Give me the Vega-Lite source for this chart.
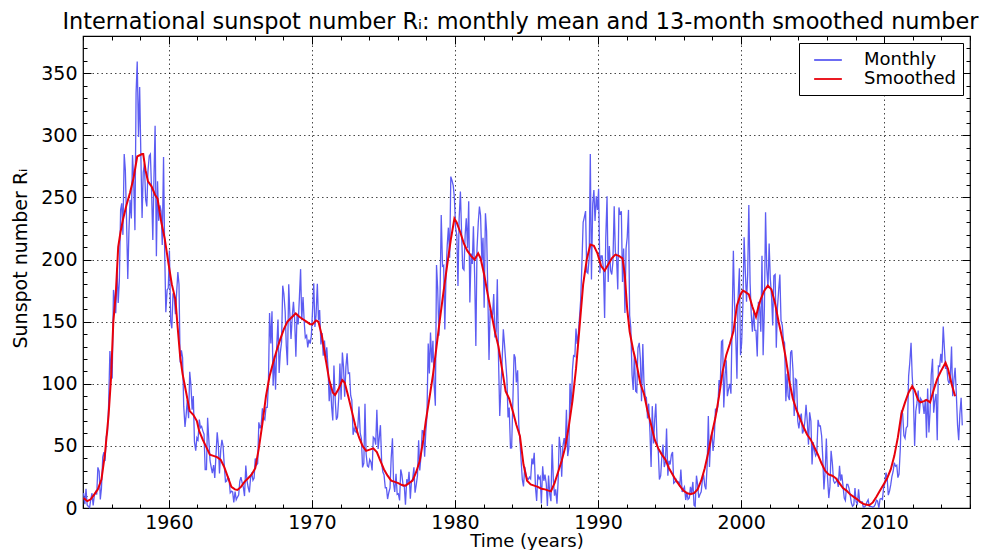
{
"$schema": "https://vega.github.io/schema/vega-lite/v6.json",
"width": 887, "height": 472,
"autosize": {"type": "none"},
"padding": {"left": 83, "top": 36, "right": 26, "bottom": 42},
"background": "white",
"title": {"text": "International sunspot number Rᵢ: monthly mean and 13-month smoothed number", "font": "DejaVu Sans", "fontSize": 22.4, "fontWeight": "normal", "color": "#000", "offset": 8, "dy": 14, "dx": -6, "anchor": "middle"},
"config": {"view": {"stroke": "#000", "strokeWidth": 1.2}, "font": "DejaVu Sans"},
"datasets": {
"monthly": [
{"t":1954.04,"v":12},{"t":1954.13,"v":3},{"t":1954.21,"v":15.4},{"t":1954.29,"v":2.5},{"t":1954.38,"v":1.1},{"t":1954.46,"v":0.3},{"t":1954.54,"v":6.8},{"t":1954.63,"v":11.9},{"t":1954.71,"v":2.1},{"t":1954.79,"v":9.9},{"t":1954.88,"v":13},{"t":1954.96,"v":10.8},
{"t":1955.04,"v":32.7},{"t":1955.13,"v":29.5},{"t":1955.21,"v":6.9},{"t":1955.29,"v":16},{"t":1955.38,"v":40.9},{"t":1955.46,"v":44.9},{"t":1955.54,"v":37.8},{"t":1955.63,"v":57.6},{"t":1955.71,"v":60.5},{"t":1955.79,"v":82.8},{"t":1955.88,"v":126.3},{"t":1955.96,"v":108.9},
{"t":1956.04,"v":104.2},{"t":1956.13,"v":175.6},{"t":1956.21,"v":167.7},{"t":1956.29,"v":156.8},{"t":1956.38,"v":193.4},{"t":1956.46,"v":165.1},{"t":1956.54,"v":182.8},{"t":1956.63,"v":240.2},{"t":1956.71,"v":245.3},{"t":1956.79,"v":219.9},{"t":1956.88,"v":285},{"t":1956.96,"v":272},
{"t":1957.04,"v":233.6},{"t":1957.13,"v":184.4},{"t":1957.21,"v":222.9},{"t":1957.29,"v":248.1},{"t":1957.38,"v":233.1},{"t":1957.46,"v":284.2},{"t":1957.54,"v":265.1},{"t":1957.63,"v":223.7},{"t":1957.71,"v":333.9},{"t":1957.79,"v":359.4},{"t":1957.88,"v":298.6},{"t":1957.96,"v":339},
{"t":1958.04,"v":286.7},{"t":1958.13,"v":233.5},{"t":1958.21,"v":270},{"t":1958.29,"v":277.5},{"t":1958.38,"v":248.2},{"t":1958.46,"v":242.8},{"t":1958.54,"v":271},{"t":1958.63,"v":283.5},{"t":1958.71,"v":284.9},{"t":1958.79,"v":257},{"t":1958.88,"v":215.7},{"t":1958.96,"v":265.6},
{"t":1959.04,"v":307.8},{"t":1959.13,"v":202.6},{"t":1959.21,"v":263},{"t":1959.29,"v":231.2},{"t":1959.38,"v":243.6},{"t":1959.46,"v":238.9},{"t":1959.54,"v":211.8},{"t":1959.63,"v":282.6},{"t":1959.71,"v":205.6},{"t":1959.79,"v":157.7},{"t":1959.88,"v":175.6},{"t":1959.96,"v":177},
{"t":1960.04,"v":207.2},{"t":1960.13,"v":150.1},{"t":1960.21,"v":144.7},{"t":1960.29,"v":172.8},{"t":1960.38,"v":169.4},{"t":1960.46,"v":156},{"t":1960.54,"v":172.3},{"t":1960.63,"v":189.9},{"t":1960.71,"v":180.1},{"t":1960.79,"v":117.2},{"t":1960.88,"v":126.9},{"t":1960.96,"v":121.2},
{"t":1961.04,"v":82},{"t":1961.13,"v":65.3},{"t":1961.21,"v":75},{"t":1961.29,"v":86.9},{"t":1961.38,"v":72.2},{"t":1961.46,"v":109.6},{"t":1961.54,"v":99.4},{"t":1961.63,"v":79.2},{"t":1961.71,"v":90.1},{"t":1961.79,"v":53.4},{"t":1961.88,"v":46.2},{"t":1961.96,"v":56.5},
{"t":1962.04,"v":54.8},{"t":1962.13,"v":71.2},{"t":1962.21,"v":64.6},{"t":1962.29,"v":65.7},{"t":1962.38,"v":61.9},{"t":1962.46,"v":59.5},{"t":1962.54,"v":30.9},{"t":1962.63,"v":30.9},{"t":1962.71,"v":72.6},{"t":1962.79,"v":55.9},{"t":1962.88,"v":38.1},{"t":1962.96,"v":32.9},
{"t":1963.04,"v":28},{"t":1963.13,"v":34.6},{"t":1963.21,"v":24.2},{"t":1963.29,"v":41.5},{"t":1963.38,"v":60.9},{"t":1963.46,"v":50.8},{"t":1963.54,"v":27.8},{"t":1963.63,"v":47},{"t":1963.71,"v":54.9},{"t":1963.79,"v":50},{"t":1963.88,"v":33.1},{"t":1963.96,"v":21.1},
{"t":1964.04,"v":21.7},{"t":1964.13,"v":25.1},{"t":1964.21,"v":23.4},{"t":1964.29,"v":12.2},{"t":1964.38,"v":13.5},{"t":1964.46,"v":12.9},{"t":1964.54,"v":4.4},{"t":1964.63,"v":13.2},{"t":1964.71,"v":6.7},{"t":1964.79,"v":8.6},{"t":1964.88,"v":10.5},{"t":1964.96,"v":21.4},
{"t":1965.04,"v":24.8},{"t":1965.13,"v":20.1},{"t":1965.21,"v":16.6},{"t":1965.29,"v":9.6},{"t":1965.38,"v":34.1},{"t":1965.46,"v":22.5},{"t":1965.54,"v":16.9},{"t":1965.63,"v":12.6},{"t":1965.71,"v":23.8},{"t":1965.79,"v":28.5},{"t":1965.88,"v":22.4},{"t":1965.96,"v":24.1},
{"t":1966.04,"v":39.9},{"t":1966.13,"v":34.6},{"t":1966.21,"v":35.8},{"t":1966.29,"v":69},{"t":1966.38,"v":64.1},{"t":1966.46,"v":67.5},{"t":1966.54,"v":80.3},{"t":1966.63,"v":72.5},{"t":1966.71,"v":71.1},{"t":1966.79,"v":81},{"t":1966.88,"v":81},{"t":1966.96,"v":99.7},
{"t":1967.04,"v":157},{"t":1967.13,"v":132.5},{"t":1967.21,"v":158.3},{"t":1967.29,"v":98.4},{"t":1967.38,"v":122.5},{"t":1967.46,"v":95.3},{"t":1967.54,"v":129.6},{"t":1967.63,"v":151.8},{"t":1967.71,"v":108.7},{"t":1967.79,"v":124.9},{"t":1967.88,"v":133.5},{"t":1967.96,"v":179},
{"t":1968.04,"v":172.5},{"t":1968.13,"v":158.4},{"t":1968.21,"v":130.6},{"t":1968.29,"v":115},{"t":1968.38,"v":180.1},{"t":1968.46,"v":156.2},{"t":1968.54,"v":136.1},{"t":1968.63,"v":154.8},{"t":1968.71,"v":166},{"t":1968.79,"v":152.5},{"t":1968.88,"v":121.8},{"t":1968.96,"v":155.5},
{"t":1969.04,"v":147.8},{"t":1969.13,"v":170.6},{"t":1969.21,"v":192.3},{"t":1969.29,"v":151.2},{"t":1969.38,"v":169.9},{"t":1969.46,"v":150.1},{"t":1969.54,"v":137.1},{"t":1969.63,"v":138.8},{"t":1969.71,"v":129.3},{"t":1969.79,"v":135.5},{"t":1969.88,"v":132.4},{"t":1969.96,"v":138.6},
{"t":1970.04,"v":157.9},{"t":1970.13,"v":181},{"t":1970.21,"v":145.7},{"t":1970.29,"v":155.1},{"t":1970.38,"v":180.5},{"t":1970.46,"v":151.2},{"t":1970.54,"v":159.3},{"t":1970.63,"v":131.7},{"t":1970.71,"v":140.9},{"t":1970.79,"v":122.6},{"t":1970.88,"v":134.8},{"t":1970.96,"v":118.2},
{"t":1971.04,"v":129.3},{"t":1971.13,"v":111.9},{"t":1971.21,"v":85.9},{"t":1971.29,"v":101.7},{"t":1971.38,"v":81.4},{"t":1971.46,"v":70.5},{"t":1971.54,"v":114.7},{"t":1971.63,"v":86.9},{"t":1971.71,"v":71.1},{"t":1971.79,"v":73.2},{"t":1971.88,"v":89.5},{"t":1971.96,"v":116.4},
{"t":1972.04,"v":87.1},{"t":1972.13,"v":125.2},{"t":1972.21,"v":113.4},{"t":1972.29,"v":89.5},{"t":1972.38,"v":114},{"t":1972.46,"v":124.6},{"t":1972.54,"v":108.3},{"t":1972.63,"v":108.7},{"t":1972.71,"v":90.6},{"t":1972.79,"v":86.8},{"t":1972.88,"v":58.9},{"t":1972.96,"v":64.1},
{"t":1973.04,"v":61.5},{"t":1973.13,"v":60.7},{"t":1973.21,"v":65.1},{"t":1973.29,"v":81.7},{"t":1973.38,"v":60},{"t":1973.46,"v":55.9},{"t":1973.54,"v":32.7},{"t":1973.63,"v":36.2},{"t":1973.71,"v":84},{"t":1973.79,"v":43.5},{"t":1973.88,"v":33.8},{"t":1973.96,"v":33},
{"t":1974.04,"v":39.1},{"t":1974.13,"v":36.8},{"t":1974.21,"v":30.2},{"t":1974.29,"v":57.1},{"t":1974.38,"v":55.9},{"t":1974.46,"v":51},{"t":1974.54,"v":79},{"t":1974.63,"v":47.6},{"t":1974.71,"v":56.9},{"t":1974.79,"v":66.7},{"t":1974.88,"v":35.4},{"t":1974.96,"v":29},
{"t":1975.04,"v":26.8},{"t":1975.13,"v":16.3},{"t":1975.21,"v":16.3},{"t":1975.29,"v":7.2},{"t":1975.38,"v":12.7},{"t":1975.46,"v":16.1},{"t":1975.54,"v":39.9},{"t":1975.63,"v":56.2},{"t":1975.71,"v":19.7},{"t":1975.79,"v":12.9},{"t":1975.88,"v":27.5},{"t":1975.96,"v":11},
{"t":1976.04,"v":11.5},{"t":1976.13,"v":6.1},{"t":1976.21,"v":31},{"t":1976.29,"v":26.6},{"t":1976.38,"v":17.6},{"t":1976.46,"v":17.3},{"t":1976.54,"v":2.7},{"t":1976.63,"v":23.2},{"t":1976.71,"v":19.1},{"t":1976.79,"v":29.2},{"t":1976.88,"v":7.4},{"t":1976.96,"v":21.7},
{"t":1977.04,"v":23.2},{"t":1977.13,"v":32.7},{"t":1977.21,"v":12.3},{"t":1977.29,"v":18.3},{"t":1977.38,"v":26.3},{"t":1977.46,"v":54.5},{"t":1977.54,"v":30.3},{"t":1977.63,"v":42.6},{"t":1977.71,"v":62.3},{"t":1977.79,"v":62},{"t":1977.88,"v":41.2},{"t":1977.96,"v":61.2},
{"t":1978.04,"v":73.5},{"t":1978.13,"v":132.5},{"t":1978.21,"v":108.3},{"t":1978.29,"v":141.2},{"t":1978.38,"v":117.1},{"t":1978.46,"v":134.7},{"t":1978.54,"v":99.7},{"t":1978.63,"v":82.3},{"t":1978.71,"v":195.7},{"t":1978.79,"v":177.1},{"t":1978.88,"v":138.6},{"t":1978.96,"v":173.7},
{"t":1979.04,"v":235.9},{"t":1979.13,"v":194.7},{"t":1979.21,"v":195.4},{"t":1979.29,"v":143.7},{"t":1979.38,"v":190.3},{"t":1979.46,"v":211.7},{"t":1979.54,"v":225.7},{"t":1979.63,"v":201.4},{"t":1979.71,"v":266.8},{"t":1979.79,"v":263.7},{"t":1979.88,"v":259.5},{"t":1979.96,"v":249.6},
{"t":1980.04,"v":226},{"t":1980.13,"v":219.5},{"t":1980.21,"v":178.7},{"t":1980.29,"v":232.4},{"t":1980.38,"v":254.7},{"t":1980.46,"v":222.7},{"t":1980.54,"v":193},{"t":1980.63,"v":191.7},{"t":1980.71,"v":219.5},{"t":1980.79,"v":233.2},{"t":1980.88,"v":209.4},{"t":1980.96,"v":246.9},
{"t":1981.04,"v":165.4},{"t":1981.13,"v":204.9},{"t":1981.21,"v":196.5},{"t":1981.29,"v":226.8},{"t":1981.38,"v":184.9},{"t":1981.46,"v":130.5},{"t":1981.54,"v":208.5},{"t":1981.63,"v":230.1},{"t":1981.71,"v":242.6},{"t":1981.79,"v":235.5},{"t":1981.88,"v":199.4},{"t":1981.96,"v":217.6},
{"t":1982.04,"v":161.2},{"t":1982.13,"v":237.2},{"t":1982.21,"v":223},{"t":1982.29,"v":176.9},{"t":1982.38,"v":119.2},{"t":1982.46,"v":160.1},{"t":1982.54,"v":153.9},{"t":1982.63,"v":156},{"t":1982.71,"v":172.3},{"t":1982.79,"v":137.3},{"t":1982.88,"v":142.2},{"t":1982.96,"v":184.2},
{"t":1983.04,"v":122.2},{"t":1983.13,"v":74},{"t":1983.21,"v":96.4},{"t":1983.29,"v":117},{"t":1983.38,"v":143.8},{"t":1983.46,"v":132.1},{"t":1983.54,"v":119.2},{"t":1983.63,"v":104.1},{"t":1983.71,"v":72.9},{"t":1983.79,"v":80.9},{"t":1983.88,"v":48.3},{"t":1983.96,"v":48.4},
{"t":1984.04,"v":82.7},{"t":1984.13,"v":123.8},{"t":1984.21,"v":121.1},{"t":1984.29,"v":101.1},{"t":1984.38,"v":110.8},{"t":1984.46,"v":66.8},{"t":1984.54,"v":54.2},{"t":1984.63,"v":37},{"t":1984.71,"v":22.8},{"t":1984.79,"v":17.4},{"t":1984.88,"v":33.1},{"t":1984.96,"v":27.1},
{"t":1985.04,"v":23.9},{"t":1985.13,"v":23.1},{"t":1985.21,"v":24.9},{"t":1985.29,"v":23.5},{"t":1985.38,"v":39.9},{"t":1985.46,"v":35.1},{"t":1985.54,"v":44.5},{"t":1985.63,"v":16.1},{"t":1985.71,"v":5.7},{"t":1985.79,"v":27},{"t":1985.88,"v":23.5},{"t":1985.96,"v":25.1},
{"t":1986.04,"v":3.6},{"t":1986.13,"v":33.6},{"t":1986.21,"v":21.9},{"t":1986.29,"v":26.8},{"t":1986.38,"v":19.9},{"t":1986.46,"v":1.6},{"t":1986.54,"v":26.2},{"t":1986.63,"v":10.7},{"t":1986.71,"v":5.5},{"t":1986.79,"v":51.3},{"t":1986.88,"v":22},{"t":1986.96,"v":9.9},
{"t":1987.04,"v":15.1},{"t":1987.13,"v":3.5},{"t":1987.21,"v":21.3},{"t":1987.29,"v":57.4},{"t":1987.38,"v":47.9},{"t":1987.46,"v":25.2},{"t":1987.54,"v":49.2},{"t":1987.63,"v":56.3},{"t":1987.71,"v":48.3},{"t":1987.79,"v":79},{"t":1987.88,"v":41.8},{"t":1987.96,"v":48.1},
{"t":1988.04,"v":100.2},{"t":1988.13,"v":79},{"t":1988.21,"v":111.1},{"t":1988.29,"v":122.7},{"t":1988.38,"v":122},{"t":1988.46,"v":144.4},{"t":1988.54,"v":132},{"t":1988.63,"v":141.2},{"t":1988.71,"v":154.1},{"t":1988.79,"v":168},{"t":1988.88,"v":199},{"t":1988.96,"v":230},
{"t":1989.04,"v":234},{"t":1989.13,"v":239},{"t":1989.21,"v":190},{"t":1989.29,"v":189},{"t":1989.38,"v":201},{"t":1989.46,"v":285},{"t":1989.54,"v":184},{"t":1989.63,"v":245},{"t":1989.71,"v":256},{"t":1989.79,"v":231},{"t":1989.88,"v":251},{"t":1989.96,"v":240},
{"t":1990.04,"v":257},{"t":1990.13,"v":189},{"t":1990.21,"v":203},{"t":1990.29,"v":203},{"t":1990.38,"v":192},{"t":1990.46,"v":153},{"t":1990.54,"v":217},{"t":1990.63,"v":251},{"t":1990.71,"v":182},{"t":1990.79,"v":211},{"t":1990.88,"v":191},{"t":1990.96,"v":188},
{"t":1991.04,"v":198},{"t":1991.13,"v":243},{"t":1991.21,"v":206},{"t":1991.29,"v":203},{"t":1991.38,"v":176},{"t":1991.46,"v":242},{"t":1991.54,"v":236},{"t":1991.63,"v":239},{"t":1991.71,"v":182},{"t":1991.79,"v":209},{"t":1991.88,"v":157},{"t":1991.96,"v":209},
{"t":1992.04,"v":218},{"t":1992.13,"v":240},{"t":1992.21,"v":155},{"t":1992.29,"v":145},{"t":1992.38,"v":107},{"t":1992.46,"v":95},{"t":1992.54,"v":124},{"t":1992.63,"v":94},{"t":1992.71,"v":93},{"t":1992.79,"v":129},{"t":1992.88,"v":133},{"t":1992.96,"v":120},
{"t":1993.04,"v":86},{"t":1993.13,"v":132},{"t":1993.21,"v":101},{"t":1993.29,"v":90},{"t":1993.38,"v":89},{"t":1993.46,"v":72},{"t":1993.54,"v":84},{"t":1993.63,"v":61},{"t":1993.71,"v":33},{"t":1993.79,"v":82},{"t":1993.88,"v":52},{"t":1993.96,"v":71},
{"t":1994.04,"v":84},{"t":1994.13,"v":52},{"t":1994.21,"v":46},{"t":1994.29,"v":23},{"t":1994.38,"v":26},{"t":1994.46,"v":41},{"t":1994.54,"v":51},{"t":1994.63,"v":33},{"t":1994.71,"v":37},{"t":1994.79,"v":64},{"t":1994.88,"v":26},{"t":1994.96,"v":38},
{"t":1995.04,"v":35},{"t":1995.13,"v":43},{"t":1995.21,"v":45},{"t":1995.29,"v":20},{"t":1995.38,"v":21},{"t":1995.46,"v":23},{"t":1995.54,"v":21},{"t":1995.63,"v":21},{"t":1995.71,"v":17},{"t":1995.79,"v":31},{"t":1995.88,"v":13},{"t":1995.96,"v":15},
{"t":1996.04,"v":17},{"t":1996.13,"v":6.4},{"t":1996.21,"v":13},{"t":1996.29,"v":7},{"t":1996.38,"v":8},{"t":1996.46,"v":17},{"t":1996.54,"v":12},{"t":1996.63,"v":21},{"t":1996.71,"v":2.3},{"t":1996.79,"v":1.3},{"t":1996.88,"v":26},{"t":1996.96,"v":19},
{"t":1997.04,"v":8.3},{"t":1997.13,"v":11},{"t":1997.21,"v":13},{"t":1997.29,"v":22},{"t":1997.38,"v":27},{"t":1997.46,"v":18},{"t":1997.54,"v":15},{"t":1997.63,"v":35},{"t":1997.71,"v":74},{"t":1997.79,"v":33},{"t":1997.88,"v":57},{"t":1997.96,"v":60},
{"t":1998.04,"v":46},{"t":1998.13,"v":58},{"t":1998.21,"v":80},{"t":1998.29,"v":77},{"t":1998.38,"v":82},{"t":1998.46,"v":103},{"t":1998.54,"v":97},{"t":1998.63,"v":134},{"t":1998.71,"v":135},{"t":1998.79,"v":81},{"t":1998.88,"v":107},{"t":1998.96,"v":119},
{"t":1999.04,"v":90},{"t":1999.13,"v":96},{"t":1999.21,"v":100},{"t":1999.29,"v":92},{"t":1999.38,"v":154},{"t":1999.46,"v":207},{"t":1999.54,"v":165},{"t":1999.63,"v":136},{"t":1999.71,"v":104},{"t":1999.79,"v":169},{"t":1999.88,"v":193},{"t":1999.96,"v":123},
{"t":2000.04,"v":133},{"t":2000.13,"v":165},{"t":2000.21,"v":218},{"t":2000.29,"v":192},{"t":2000.38,"v":166},{"t":2000.46,"v":188},{"t":2000.54,"v":244},{"t":2000.63,"v":181},{"t":2000.71,"v":156},{"t":2000.79,"v":142},{"t":2000.88,"v":158},{"t":2000.96,"v":143},
{"t":2001.04,"v":143},{"t":2001.13,"v":122},{"t":2001.21,"v":166},{"t":2001.29,"v":162},{"t":2001.38,"v":142},{"t":2001.46,"v":203},{"t":2001.54,"v":123},{"t":2001.63,"v":162},{"t":2001.71,"v":238},{"t":2001.79,"v":194},{"t":2001.88,"v":177},{"t":2001.96,"v":213},
{"t":2002.04,"v":185},{"t":2002.13,"v":170},{"t":2002.21,"v":147},{"t":2002.29,"v":187},{"t":2002.38,"v":188},{"t":2002.46,"v":129},{"t":2002.54,"v":161},{"t":2002.63,"v":176},{"t":2002.71,"v":188},{"t":2002.79,"v":151},{"t":2002.88,"v":147},{"t":2002.96,"v":135},
{"t":2003.04,"v":133},{"t":2003.13,"v":86},{"t":2003.21,"v":108},{"t":2003.29,"v":90},{"t":2003.38,"v":87},{"t":2003.46,"v":125},{"t":2003.54,"v":127},{"t":2003.63,"v":110},{"t":2003.71,"v":74},{"t":2003.79,"v":104},{"t":2003.88,"v":103},{"t":2003.96,"v":70},
{"t":2004.04,"v":64},{"t":2004.13,"v":73},{"t":2004.21,"v":76},{"t":2004.29,"v":60},{"t":2004.38,"v":63},{"t":2004.46,"v":70},{"t":2004.54,"v":83},{"t":2004.63,"v":69},{"t":2004.71,"v":51},{"t":2004.79,"v":77},{"t":2004.88,"v":70},{"t":2004.96,"v":35},
{"t":2005.04,"v":53},{"t":2005.13,"v":46},{"t":2005.21,"v":42},{"t":2005.29,"v":44},{"t":2005.38,"v":71},{"t":2005.46,"v":66},{"t":2005.54,"v":66},{"t":2005.63,"v":58},{"t":2005.71,"v":40},{"t":2005.79,"v":15},{"t":2005.88,"v":31},{"t":2005.96,"v":56},
{"t":2006.04,"v":25},{"t":2006.13,"v":8},{"t":2006.21,"v":17},{"t":2006.29,"v":46},{"t":2006.38,"v":36},{"t":2006.46,"v":22},{"t":2006.54,"v":20},{"t":2006.63,"v":21},{"t":2006.71,"v":23},{"t":2006.79,"v":17},{"t":2006.88,"v":34},{"t":2006.96,"v":22},
{"t":2007.04,"v":27},{"t":2007.13,"v":17},{"t":2007.21,"v":8},{"t":2007.29,"v":6},{"t":2007.38,"v":19},{"t":2007.46,"v":19},{"t":2007.54,"v":16},{"t":2007.63,"v":10},{"t":2007.71,"v":4},{"t":2007.79,"v":1.5},{"t":2007.88,"v":2.7},{"t":2007.96,"v":16},
{"t":2008.04,"v":5},{"t":2008.13,"v":3.3},{"t":2008.21,"v":15},{"t":2008.29,"v":4.7},{"t":2008.38,"v":4.7},{"t":2008.46,"v":5},{"t":2008.54,"v":0.8},{"t":2008.63,"v":0.8},{"t":2008.71,"v":1.8},{"t":2008.79,"v":4.7},{"t":2008.88,"v":6.6},{"t":2008.96,"v":1.3},
{"t":2009.04,"v":1.3},{"t":2009.13,"v":1.2},{"t":2009.21,"v":0.6},{"t":2009.29,"v":1.2},{"t":2009.38,"v":2.9},{"t":2009.46,"v":6.3},{"t":2009.54,"v":5.5},{"t":2009.63,"v":0},{"t":2009.71,"v":7.1},{"t":2009.79,"v":7.7},{"t":2009.88,"v":6.9},{"t":2009.96,"v":16.3},
{"t":2010.04,"v":19.5},{"t":2010.13,"v":28.5},{"t":2010.21,"v":24},{"t":2010.29,"v":10.4},{"t":2010.38,"v":13.9},{"t":2010.46,"v":18.8},{"t":2010.54,"v":25.2},{"t":2010.63,"v":29.6},{"t":2010.71,"v":36.4},{"t":2010.79,"v":33.6},{"t":2010.88,"v":34.4},{"t":2010.96,"v":24.5},
{"t":2011.04,"v":27.3},{"t":2011.13,"v":48.3},{"t":2011.21,"v":78.6},{"t":2011.29,"v":76.1},{"t":2011.38,"v":58.2},{"t":2011.46,"v":56.1},{"t":2011.54,"v":64.5},{"t":2011.63,"v":65.8},{"t":2011.71,"v":106.2},{"t":2011.79,"v":116.9},{"t":2011.88,"v":133.1},{"t":2011.96,"v":106.3},
{"t":2012.04,"v":91.3},{"t":2012.13,"v":50},{"t":2012.21,"v":77.9},{"t":2012.29,"v":84.4},{"t":2012.38,"v":94.5},{"t":2012.46,"v":76},{"t":2012.54,"v":88.3},{"t":2012.63,"v":86.5},{"t":2012.71,"v":84.1},{"t":2012.79,"v":75.8},{"t":2012.88,"v":87.5},{"t":2012.96,"v":56.6},
{"t":2013.04,"v":96.1},{"t":2013.13,"v":60.9},{"t":2013.21,"v":78.3},{"t":2013.29,"v":107.3},{"t":2013.38,"v":120.2},{"t":2013.46,"v":76.7},{"t":2013.54,"v":86.2},{"t":2013.63,"v":91.8},{"t":2013.71,"v":54.5},{"t":2013.79,"v":114.4},{"t":2013.88,"v":113.9},{"t":2013.96,"v":124.2},
{"t":2014.04,"v":116.9},{"t":2014.13,"v":146.1},{"t":2014.21,"v":128.7},{"t":2014.29,"v":112.5},{"t":2014.38,"v":112.5},{"t":2014.46,"v":102.9},{"t":2014.54,"v":100.2},{"t":2014.63,"v":106.9},{"t":2014.71,"v":130},{"t":2014.79,"v":90},{"t":2014.88,"v":103.6},{"t":2014.96,"v":112.9},
{"t":2015.04,"v":93},{"t":2015.13,"v":66.7},{"t":2015.21,"v":54.5},{"t":2015.29,"v":75.3},{"t":2015.38,"v":88.8},{"t":2015.46,"v":66.5}
],
"smoothed": [
{"t":1954.04,"v":8},{"t":1954.3,"v":5.5},{"t":1954.54,"v":7},{"t":1954.79,"v":11},{"t":1955.04,"v":15},{"t":1955.29,"v":23},{"t":1955.54,"v":44},{"t":1955.79,"v":75},{"t":1955.96,"v":105},
{"t":1956.12,"v":150},{"t":1956.29,"v":172},{"t":1956.46,"v":210},{"t":1956.62,"v":222},{"t":1956.79,"v":232},{"t":1957.04,"v":244},{"t":1957.29,"v":254},{"t":1957.54,"v":266},{"t":1957.79,"v":283},{"t":1957.96,"v":284},
{"t":1958.12,"v":285},{"t":1958.21,"v":285},{"t":1958.37,"v":272},{"t":1958.54,"v":263},{"t":1958.79,"v":259},{"t":1959.04,"v":252},{"t":1959.21,"v":249},{"t":1959.46,"v":231},{"t":1959.71,"v":217},{"t":1959.96,"v":198},
{"t":1960.21,"v":180},{"t":1960.46,"v":168},{"t":1960.62,"v":145},{"t":1960.79,"v":122},{"t":1960.96,"v":108},{"t":1961.21,"v":93},{"t":1961.46,"v":78},{"t":1961.71,"v":75},{"t":1961.96,"v":70},
{"t":1962.12,"v":62},{"t":1962.37,"v":55},{"t":1962.62,"v":49},{"t":1962.87,"v":43},{"t":1963.12,"v":42},{"t":1963.37,"v":41},{"t":1963.62,"v":39},{"t":1963.87,"v":33},
{"t":1964.12,"v":25},{"t":1964.37,"v":17},{"t":1964.62,"v":15},{"t":1964.79,"v":14.5},{"t":1965.04,"v":17},{"t":1965.29,"v":21},{"t":1965.54,"v":24},{"t":1965.79,"v":27},
{"t":1966.04,"v":32},{"t":1966.29,"v":48},{"t":1966.54,"v":68},{"t":1966.79,"v":90},{"t":1967.04,"v":106},{"t":1967.29,"v":117},{"t":1967.54,"v":127},{"t":1967.79,"v":136},
{"t":1968.04,"v":144},{"t":1968.29,"v":150},{"t":1968.54,"v":153},{"t":1968.87,"v":156.6},{"t":1969.12,"v":154},{"t":1969.37,"v":152},{"t":1969.62,"v":150},{"t":1969.87,"v":148},
{"t":1970.04,"v":148},{"t":1970.29,"v":151},{"t":1970.46,"v":150},{"t":1970.71,"v":138},{"t":1970.96,"v":120},{"t":1971.21,"v":103},{"t":1971.46,"v":93},{"t":1971.62,"v":91},{"t":1971.87,"v":96},
{"t":1972.12,"v":103},{"t":1972.29,"v":101},{"t":1972.54,"v":90},{"t":1972.79,"v":78},{"t":1973.04,"v":66},{"t":1973.29,"v":57},{"t":1973.54,"v":50},{"t":1973.79,"v":46},
{"t":1974.04,"v":47},{"t":1974.29,"v":48},{"t":1974.54,"v":45},{"t":1974.79,"v":38},{"t":1975.04,"v":31},{"t":1975.29,"v":26},{"t":1975.54,"v":22},{"t":1975.79,"v":21},
{"t":1976.04,"v":20},{"t":1976.29,"v":18.5},{"t":1976.54,"v":18},{"t":1976.79,"v":20},{"t":1977.04,"v":22},{"t":1977.29,"v":29},{"t":1977.54,"v":38},{"t":1977.79,"v":55},{"t":1977.96,"v":70},
{"t":1978.21,"v":88},{"t":1978.46,"v":107},{"t":1978.71,"v":130},{"t":1978.96,"v":153},{"t":1979.21,"v":175},{"t":1979.46,"v":196},{"t":1979.71,"v":216},{"t":1979.96,"v":233},
{"t":1980.12,"v":230},{"t":1980.37,"v":222},{"t":1980.62,"v":213},{"t":1980.87,"v":207},{"t":1981.12,"v":203},{"t":1981.37,"v":200},{"t":1981.62,"v":205},{"t":1981.79,"v":201},
{"t":1982.04,"v":188},{"t":1982.29,"v":172},{"t":1982.54,"v":157},{"t":1982.79,"v":142},{"t":1983.04,"v":130},{"t":1983.29,"v":112},{"t":1983.54,"v":94},{"t":1983.79,"v":88},
{"t":1984.04,"v":78},{"t":1984.29,"v":67},{"t":1984.54,"v":58},{"t":1984.79,"v":35},{"t":1985.04,"v":22},{"t":1985.29,"v":19},{"t":1985.54,"v":18},{"t":1985.79,"v":17},
{"t":1986.04,"v":15.5},{"t":1986.29,"v":15},{"t":1986.54,"v":14},{"t":1986.71,"v":13.5},{"t":1986.96,"v":20},{"t":1987.21,"v":29},{"t":1987.46,"v":38},{"t":1987.71,"v":49},{"t":1987.96,"v":66},
{"t":1988.21,"v":86},{"t":1988.46,"v":112},{"t":1988.71,"v":146},{"t":1988.96,"v":180},{"t":1989.21,"v":200},{"t":1989.46,"v":212},{"t":1989.71,"v":211},{"t":1989.96,"v":205},
{"t":1990.21,"v":195},{"t":1990.46,"v":191},{"t":1990.71,"v":196},{"t":1990.96,"v":201},{"t":1991.21,"v":204},{"t":1991.46,"v":203},{"t":1991.71,"v":201},{"t":1991.87,"v":188},
{"t":1992.04,"v":160},{"t":1992.21,"v":142},{"t":1992.46,"v":127},{"t":1992.71,"v":115},{"t":1992.96,"v":100},{"t":1993.21,"v":92},{"t":1993.46,"v":78},{"t":1993.71,"v":67},{"t":1993.96,"v":55},
{"t":1994.21,"v":48},{"t":1994.46,"v":43},{"t":1994.71,"v":39},{"t":1994.96,"v":32},{"t":1995.21,"v":27},{"t":1995.46,"v":22},{"t":1995.71,"v":18},{"t":1995.96,"v":14},
{"t":1996.21,"v":12},{"t":1996.46,"v":11.2},{"t":1996.71,"v":12},{"t":1996.96,"v":15},{"t":1997.21,"v":22},{"t":1997.46,"v":32},{"t":1997.71,"v":45},{"t":1997.96,"v":60},
{"t":1998.21,"v":73},{"t":1998.46,"v":90},{"t":1998.71,"v":110},{"t":1998.96,"v":123},{"t":1999.21,"v":132},{"t":1999.46,"v":142},{"t":1999.71,"v":163},{"t":1999.96,"v":172},
{"t":2000.12,"v":175},{"t":2000.29,"v":174},{"t":2000.54,"v":172},{"t":2000.79,"v":162},{"t":2001.04,"v":154},{"t":2001.21,"v":162},{"t":2001.37,"v":168},{"t":2001.62,"v":175},{"t":2001.87,"v":179},
{"t":2002.12,"v":176},{"t":2002.37,"v":165},{"t":2002.62,"v":150},{"t":2002.87,"v":137},{"t":2003.12,"v":121},{"t":2003.37,"v":102},{"t":2003.62,"v":88},{"t":2003.87,"v":79},
{"t":2004.12,"v":72},{"t":2004.37,"v":65},{"t":2004.62,"v":59},{"t":2004.87,"v":55},{"t":2005.12,"v":49},{"t":2005.37,"v":43},{"t":2005.62,"v":36},{"t":2005.87,"v":30},
{"t":2006.12,"v":27},{"t":2006.37,"v":26},{"t":2006.62,"v":24},{"t":2006.87,"v":20},{"t":2007.12,"v":16},{"t":2007.37,"v":14},{"t":2007.62,"v":11},{"t":2007.87,"v":9},
{"t":2008.12,"v":7},{"t":2008.37,"v":4.5},{"t":2008.62,"v":3},{"t":2008.96,"v":2.2},{"t":2009.21,"v":4.5},{"t":2009.46,"v":9},{"t":2009.71,"v":14},{"t":2009.96,"v":19},
{"t":2010.21,"v":24},{"t":2010.46,"v":31},{"t":2010.71,"v":42},{"t":2010.96,"v":57},{"t":2011.21,"v":76},{"t":2011.46,"v":85},{"t":2011.71,"v":93},{"t":2011.96,"v":98},
{"t":2012.12,"v":95},{"t":2012.37,"v":87},{"t":2012.54,"v":85},{"t":2012.79,"v":86},{"t":2012.96,"v":87},{"t":2013.21,"v":85},{"t":2013.46,"v":95},{"t":2013.71,"v":104},{"t":2013.96,"v":110},
{"t":2014.29,"v":117},{"t":2014.46,"v":112},{"t":2014.71,"v":100},{"t":2014.96,"v":90}
]
},
"layer": [
{
"data": {"name": "monthly"},
"mark": {"type": "line", "strokeWidth": 1.3},
"encoding": {
"x": {"field": "t", "type": "quantitative", "scale": {"domain": [1954, 2016], "nice": false, "zero": false},
"axis": {"orient": "bottom", "values": [1954,1956,1958,1960,1962,1964,1966,1968,1970,1972,1974,1976,1978,1980,1982,1984,1986,1988,1990,1992,1994,1996,1998,2000,2002,2004,2006,2008,2010,2012,2014,2016],
"format": "d", "labelExpr": "datum.value % 10 === 0 ? datum.label : ''", "labelFontSize": 19, "labelColor": "#000", "labelPadding": 13, "labelFlush": false, "labelOverlap": false,
"domain": false, "tickColor": "#000", "tickWidth": 1, "tickSize": {"condition": {"test": "datum.value % 10 === 0", "value": -8}, "value": -4},
"grid": true, "gridColor": "#000", "gridDash": [1.5, 3], "gridWidth": 0.8, "gridOpacity": {"condition": {"test": "datum.value % 10 === 0", "value": 0.9}, "value": 0},
"title": "Time (years)", "titleFontSize": 18, "titleFontWeight": "normal", "titleColor": "#000", "titlePadding": -4}},
"y": {"field": "v", "type": "quantitative", "scale": {"domain": [0, 380], "nice": false},
"axis": {"orient": "left", "values": [0,10,20,30,40,50,60,70,80,90,100,110,120,130,140,150,160,170,180,190,200,210,220,230,240,250,260,270,280,290,300,310,320,330,340,350,360,370,380],
"format": "d", "labelExpr": "datum.value % 50 === 0 ? datum.label : ''", "labelFontSize": 19, "labelColor": "#000", "labelPadding": 14, "labelFlush": false, "labelOverlap": false,
"domain": false, "tickColor": "#000", "tickWidth": 1, "tickSize": {"condition": {"test": "datum.value % 50 === 0", "value": -8}, "value": -4},
"grid": true, "gridColor": "#000", "gridDash": [1.5, 3], "gridWidth": 0.8, "gridOpacity": {"condition": {"test": "datum.value % 50 === 0 && datum.value > 0", "value": 0.9}, "value": 0},
"title": "Sunspot number Rᵢ", "titleFontSize": 19, "titleFontWeight": "normal", "titleColor": "#000", "titlePadding": 10, "titleY": 222}},
"color": {"datum": "Monthly", "type": "nominal", "scale": {"domain": ["Monthly", "Smoothed"], "range": ["#5c5cf2", "#e8000b"]},
"legend": {"title": null, "orient": "top-right", "offset": 7, "symbolType": "M-1.6,0H1.6", "symbolSize": 300, "symbolStrokeWidth": 1.8, "labelFontSize": 18, "labelFont": "DejaVu Sans", "labelColor": "#000", "strokeColor": "#000", "fillColor": "#fff", "padding": 7, "rowPadding": 0, "labelOffset": 26, "symbolOffset": 12, "cornerRadius": 0}}
}
},
{
"data": {"name": "smoothed"},
"mark": {"type": "line", "strokeWidth": 2},
"encoding": {
"x": {"field": "t", "type": "quantitative",
"axis": {"orient": "top", "values": [1954,1956,1958,1960,1962,1964,1966,1968,1970,1972,1974,1976,1978,1980,1982,1984,1986,1988,1990,1992,1994,1996,1998,2000,2002,2004,2006,2008,2010,2012,2014,2016],
"labels": false, "domain": false, "grid": false, "title": null, "tickColor": "#000", "tickWidth": 1, "tickSize": {"condition": {"test": "datum.value % 10 === 0", "value": -8}, "value": -4}}},
"y": {"field": "v", "type": "quantitative",
"axis": {"orient": "right", "values": [0,10,20,30,40,50,60,70,80,90,100,110,120,130,140,150,160,170,180,190,200,210,220,230,240,250,260,270,280,290,300,310,320,330,340,350,360,370,380],
"labels": false, "domain": false, "grid": false, "title": null, "tickColor": "#000", "tickWidth": 1, "tickSize": {"condition": {"test": "datum.value % 50 === 0", "value": -8}, "value": -4}}},
"color": {"datum": "Smoothed", "type": "nominal"}
}
}
],
"resolve": {"axis": {"x": "independent", "y": "independent"}}
}
